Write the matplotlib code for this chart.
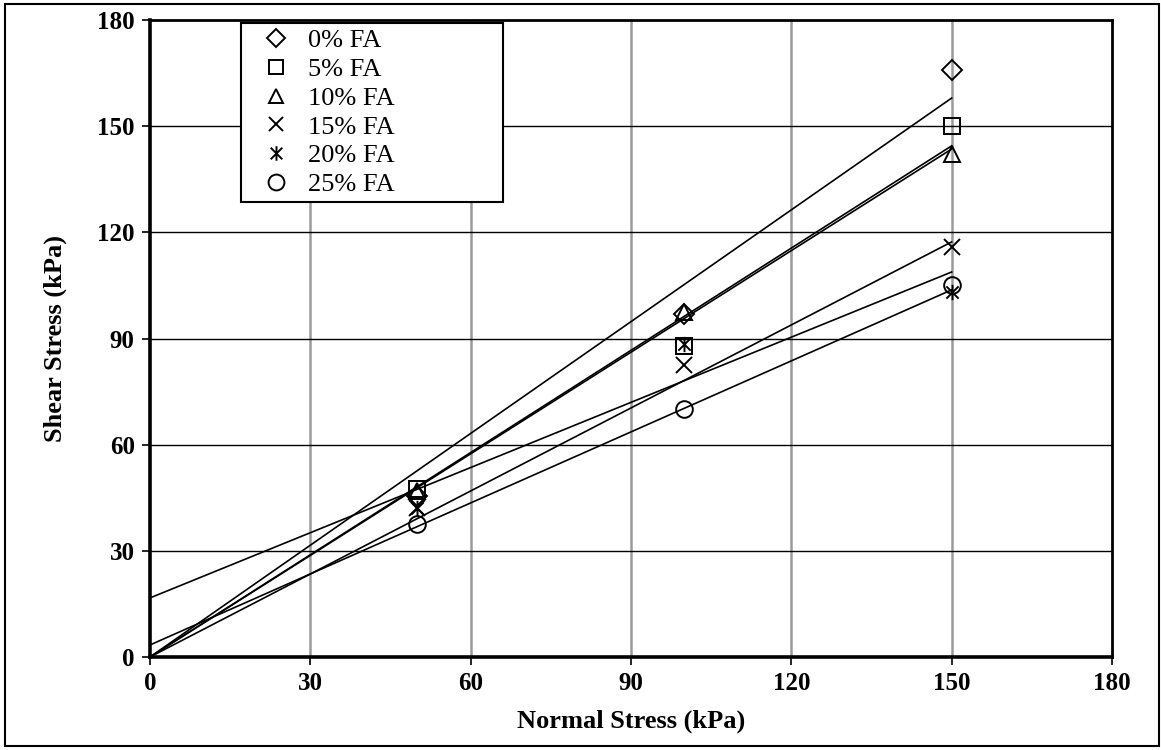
import matplotlib

matplotlib.use("Agg")
import matplotlib.pyplot as plt
from matplotlib.lines import Line2D
from matplotlib.patches import Rectangle
from matplotlib.path import Path

plt.rcParams["font.family"] = ["Liberation Serif", "DejaVu Serif"]

# data
normal_stress = [50, 100, 150]
labels = ["0% FA", "5% FA", "10% FA", "15% FA", "20% FA", "25% FA"]
shear_0 = [45.5, 97.0, 166.0]
shear_5 = [47.5, 88.0, 150.0]
shear_10 = [47.0, 97.5, 142.0]
shear_15 = [42.0, 82.5, 116.0]
shear_20 = [42.0, 88.5, 103.2]
shear_25 = [37.5, 70.0, 105.0]

# linear trend lines (Excel style), intercept and slope
trend_intercept = [0.0, 0.0, 0.0, 0.0, 16.7, 3.4]
trend_slope = [1.053, 0.963, 0.957, 0.782, 0.614, 0.669]
trend_x = [0, 150]

# asterisk marker: an x with a vertical stroke
ast = Path(
    [(-1, -1), (1, 1), (-1, 1), (1, -1), (0, -1.25), (0, 1.25)],
    [Path.MOVETO, Path.LINETO, Path.MOVETO, Path.LINETO, Path.MOVETO, Path.LINETO],
)

series = [shear_0, shear_5, shear_10, shear_15, shear_20, shear_25]
markers = ["D", "s", "^", "x", ast, "o"]
msizes = [10, 11, 11, 11, 11, 12]

fig = plt.figure(figsize=(11.61, 7.5), dpi=100)
ax = fig.add_axes([0.1292, 0.124, 0.8286, 0.8493])

fig.patches.append(
    Rectangle((0.004, 0.005), 0.994, 0.99, transform=fig.transFigure,
              fill=False, edgecolor="black", lw=1.5)
)

for b, m in zip(trend_intercept, trend_slope):
    ax.plot(trend_x, [b + m * x for x in trend_x], color="black", lw=1.2, zorder=3)

handles = []
for y, mk, ms, lab in zip(series, markers, msizes, labels):
    ax.plot(normal_stress, y, ls="none", marker=mk, ms=ms, mfc="none",
            mec="black", mew=1.4, zorder=4)
    handles.append(Line2D([], [], ls="none", marker=mk, ms=ms * 0.95, mfc="none",
                          mec="black", mew=1.4, label=lab))

ax.set_xlim(0, 180)
ax.set_ylim(0, 180)
ax.set_xticks(range(0, 181, 30))
ax.set_yticks(range(0, 181, 30))
for xv in range(30, 180, 30):
    ax.axvline(xv, color="#9a9a9a", lw=1.8, zorder=1)
for yv in range(30, 180, 30):
    ax.axhline(yv, color="black", lw=1.0, zorder=1)

for s in ["left", "bottom"]:
    ax.spines[s].set_linewidth(2.6)
for s in ["top", "right"]:
    ax.spines[s].set_linewidth(2.0)
ax.tick_params(direction="out", length=6, width=1.2, labelsize=18, pad=5,
               top=False, right=False)
for t in ax.get_xticklabels() + ax.get_yticklabels():
    t.set_fontweight("bold")

ax.set_xlabel("Normal Stress (kPa)", fontsize=19, fontweight="bold", labelpad=10)
ax.set_ylabel("Shear Stress (kPa)", fontsize=19, fontweight="bold", labelpad=22)

leg = ax.legend(handles=handles, loc="upper left",
                bbox_to_anchor=(0.0946, 0.7143, 0.2724, 0.281), mode="expand",
                fontsize=19, frameon=True, fancybox=False, edgecolor="black",
                framealpha=1, borderpad=0.22, labelspacing=0.2, handlelength=2.2,
                handletextpad=0.1, borderaxespad=0)
leg.get_frame().set_linewidth(1.5)

fig.savefig("out.png", dpi=100)
